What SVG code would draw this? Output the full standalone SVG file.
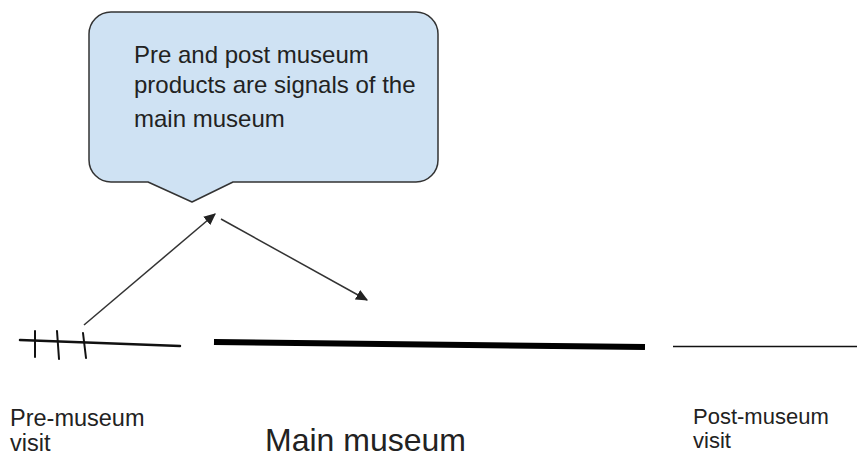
<svg xmlns="http://www.w3.org/2000/svg" width="857" height="458" viewBox="0 0 857 458">
  <style>
    .lbl { font-family: "Liberation Sans", Arial, sans-serif; fill: #222; }
    .callout { fill: #cfe2f3; stroke: #333; stroke-width: 1.5; stroke-linejoin: round; }
    .conn { stroke: #333; stroke-width: 1.5; fill: none; marker-end: url(#arrow); }
    .tick { stroke: #111; stroke-width: 2; stroke-linecap: round; }
  </style>
  <defs>
    <marker id="arrow" viewBox="0 0 10 10" refX="9" refY="5" markerWidth="8" markerHeight="8" orient="auto" markerUnits="strokeWidth">
      <path d="M0,0.5 L10,5 L0,9.5 Z" fill="#222"/>
    </marker>
  </defs>
  <rect width="857" height="458" fill="#ffffff"/>

  <g id="callout">
    <path class="callout" d="M111,12 H416 A22,22 0 0 1 438,34 V160 A22,22 0 0 1 416,182 H233 L192,202 L148,182 H111 A22,22 0 0 1 89,160 V34 A22,22 0 0 1 111,12 Z"/>
    <text class="lbl" font-size="24" x="134" y="63">Pre and post museum</text>
    <text class="lbl" font-size="24" x="134" y="93">products are signals of the</text>
    <text class="lbl" font-size="24" x="134" y="127">main museum</text>
  </g>

  <g id="pre-museum">
    <line x1="20" y1="340" x2="180" y2="346" stroke="#111" stroke-width="2.5" stroke-linecap="round"/>
    <line class="tick" x1="35" y1="331" x2="35" y2="357"/>
    <line class="tick" x1="57" y1="331" x2="59" y2="359"/>
    <line class="tick" x1="83" y1="333" x2="86" y2="358"/>
    <text class="lbl" font-size="23.5" x="10" y="426">Pre-museum</text>
    <text class="lbl" font-size="23.5" x="10" y="451">visit</text>
  </g>

  <g id="main-museum">
    <line x1="214" y1="342" x2="645" y2="347" stroke="#000" stroke-width="6"/>
    <text class="lbl" font-size="32" x="265" y="451">Main museum</text>
  </g>

  <g id="post-museum">
    <line x1="673" y1="346.5" x2="857" y2="346.5" stroke="#111" stroke-width="1.5"/>
    <text class="lbl" font-size="22" x="693" y="424">Post-museum</text>
    <text class="lbl" font-size="22" x="693" y="448">visit</text>
  </g>

  <g id="connectors">
    <line class="conn" x1="84" y1="325" x2="215" y2="214"/>
    <line class="conn" x1="221" y1="219" x2="367" y2="300"/>
  </g>
</svg>
